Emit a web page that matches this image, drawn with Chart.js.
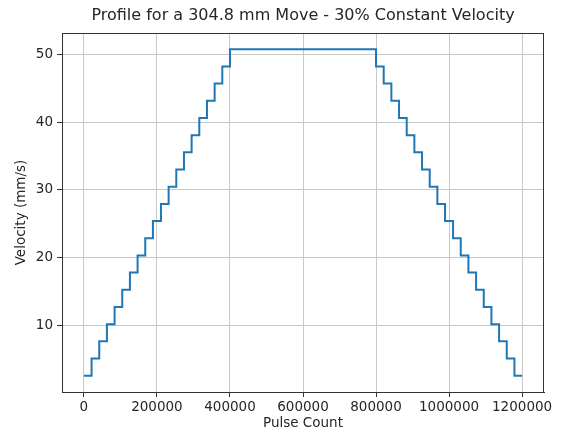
<!DOCTYPE html>
<html>
<head>
<meta charset="utf-8">
<script src="https://cdn.jsdelivr.net/npm/chart.js@4/dist/chart.umd.min.js"></script>
<style>
  html, body { margin: 0; padding: 0; background: #fff; }
  #wrap { width: 561px; height: 436px; }
</style>
</head>
<body>
<div id="wrap"><canvas id="profileChart"></canvas></div>
<script>
// step start positions (pulses) and velocity level (mm/s) held from there on
const pulses = [
  0, 21000, 42000, 63000, 84000, 105000, 126000, 147000, 168000, 189000,
  211000, 232000, 253000, 274000, 295000, 316000, 337000, 358000, 379000, 400000,
  800000, 821000, 842000, 863000, 884000, 905000, 926000, 947000, 968000, 989000,
  1011000, 1032000, 1053000, 1074000, 1095000, 1116000, 1137000, 1158000, 1179000, 1200000
];
const velocity = [
  2.54, 5.08, 7.62, 10.16, 12.7, 15.24, 17.78, 20.32, 22.86, 25.4,
  27.94, 30.48, 33.02, 35.56, 38.1, 40.64, 43.18, 45.72, 48.26, 50.8,
  48.26, 45.72, 43.18, 40.64, 38.1, 35.56, 33.02, 30.48, 27.94, 25.4,
  22.86, 20.32, 17.78, 15.24, 12.7, 10.16, 7.62, 5.08, 2.54, 2.54
];
const xTicks = [0, 200000, 400000, 600000, 800000, 1000000, 1200000];
const yTicks = [10, 20, 30, 40, 50];
const chartTitle = 'Profile for a 304.8 mm Move - 30% Constant Velocity';

const textColor = '#262626';
const gridColor = '#c8c8c8';
const spineColor = '#333';
const fontFamily = '"DejaVu Sans", sans-serif';

var points = pulses.map(function (p, i) {
  return { x: p, y: velocity[i] };
});

// title centred over the plot area, plus the full box round it
var frameAndTitle = {
  id: 'frameAndTitle',
  afterDraw: function (chart) {
    var c = chart.ctx;
    var a = chart.chartArea;
    c.save();
    c.strokeStyle = spineColor;
    c.lineWidth = 1;
    c.strokeRect(Math.round(a.left) + 0.5, Math.round(a.top) + 0.5,
      Math.round(a.right - a.left) - 1, Math.round(a.bottom - a.top));
    c.fillStyle = textColor;
    c.font = '16px ' + fontFamily;
    c.textAlign = 'center';
    c.textBaseline = 'middle';
    c.fillText(chartTitle, (a.left + a.right) / 2, 16);
    c.restore();
  },
};

var ctx = document.getElementById('profileChart');

new Chart(ctx, {
  type: 'line',
  data: {
    datasets: [
      {
        data: points,
        borderColor: '#1f77b4',
        borderWidth: 2,
        stepped: 'before',
        pointRadius: 0,
        fill: false,
      },
    ],
  },
  options: {
    responsive: true,
    maintainAspectRatio: false,
    animation: false,
    layout: { padding: { left: 0, right: 17, top: 33, bottom: 0 } },
    plugins: {
      legend: { display: false },
      tooltip: { enabled: false },
      title: { display: false },
    },
    scales: {
      x: {
        type: 'linear',
        min: -60000,
        max: 1260000,
        border: { display: true, color: spineColor, width: 1 },
        grid: { color: gridColor, lineWidth: 1, drawTicks: true, tickLength: 5, tickColor: spineColor },
        ticks: {
          color: textColor,
          font: { family: fontFamily, size: 13.5 },
          padding: 2,
          maxRotation: 0,
          callback: function (v) { return String(v); },
        },
        afterBuildTicks: function (scale) {
          scale.ticks = xTicks.map(function (v) { return { value: v }; });
        },
        afterFit: function (scale) { scale.height = 44; },
        title: {
          display: true,
          text: 'Pulse Count',
          color: textColor,
          font: { family: fontFamily, size: 13.5 },
          padding: { top: 0, bottom: 4 },
        },
      },
      y: {
        type: 'linear',
        min: 0.13,
        max: 53.2,
        border: { display: true, color: spineColor, width: 1 },
        grid: { color: gridColor, lineWidth: 1, drawTicks: true, tickLength: 5, tickColor: spineColor },
        ticks: {
          color: textColor,
          font: { family: fontFamily, size: 13.5 },
          padding: 4,
        },
        afterBuildTicks: function (scale) {
          scale.ticks = yTicks.map(function (v) { return { value: v }; });
        },
        afterFit: function (scale) { scale.width = 62; },
        title: {
          display: true,
          text: 'Velocity (mm/s)',
          color: textColor,
          font: { family: fontFamily, size: 13.5 },
          padding: { top: 13, bottom: 0 },
        },
      },
    },
  },
  plugins: [frameAndTitle],
});
</script>
</body>
</html>
